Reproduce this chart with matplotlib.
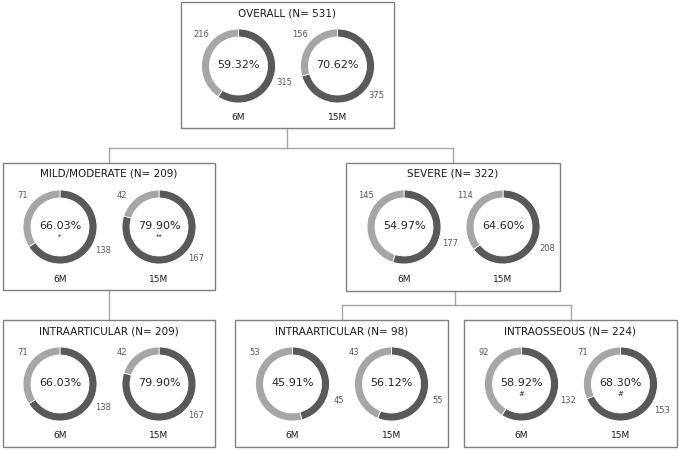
import numpy as np
import matplotlib.pyplot as plt
from matplotlib.patches import Rectangle

# --- data ---
groups = ["OVERALL", "MILD/MODERATE", "SEVERE", "INTRAARTICULAR", "INTRAARTICULAR", "INTRAOSSEOUS"]
group_n = [531, 209, 322, 209, 98, 224]
timepoints = ["6M", "15M"]

dark_6m = [315, 138, 177, 138, 45, 132]
light_6m = [216, 71, 145, 71, 53, 92]
dark_15m = [375, 167, 208, 167, 55, 153]
light_15m = [156, 42, 114, 42, 43, 71]

pct_6m = ["59.32%", "66.03%", "54.97%", "66.03%", "45.91%", "58.92%"]
pct_15m = ["70.62%", "79.90%", "64.60%", "79.90%", "56.12%", "68.30%"]
mark_6m = ["", "*", "", "", "", "#"]
mark_15m = ["", "**", "", "", "", "#"]

# --- layout (image pixels, y downwards) ---
W, H = 679, 451
boxes = [(181, 2, 394, 128), (3, 163, 215, 290), (346, 163, 560, 291),
         (3, 320, 215, 447), (235, 320, 448, 447), (464, 320, 677, 447)]
DARK = "#595959"
LIGHT = "#a6a6a6"
EDGE = "#808080"
R_OUT, RING = 37, 8

fig = plt.figure(figsize=(W / 100, H / 100), dpi=100)
ax = fig.add_axes([0, 0, 1, 1])
ax.set_xlim(0, W)
ax.set_ylim(0, H)
ax.set_aspect("equal")
ax.axis("off")


def fy(y):
    return H - y


# connectors
line_kw = dict(color="#a6a6a6", lw=1, zorder=0)
ax.plot([287, 287], [fy(128), fy(148)], **line_kw)
ax.plot([109, 453], [fy(148), fy(148)], **line_kw)
ax.plot([109, 109], [fy(148), fy(163)], **line_kw)
ax.plot([453, 453], [fy(148), fy(163)], **line_kw)
ax.plot([109, 109], [fy(290), fy(320)], **line_kw)
ax.plot([455, 455], [fy(291), fy(305)], **line_kw)
ax.plot([342, 571], [fy(305), fy(305)], **line_kw)
ax.plot([342, 342], [fy(305), fy(320)], **line_kw)
ax.plot([571, 571], [fy(305), fy(320)], **line_kw)


def donut(cx, cy, dark, light, pct, mark):
    wedges, _ = ax.pie([dark, light], colors=[DARK, LIGHT], startangle=90,
                       counterclock=False, radius=R_OUT, center=(cx, cy),
                       wedgeprops=dict(width=RING, edgecolor="white", linewidth=0.6),
                       frame=True)
    for w, val, lo, hi in zip(wedges, [dark, light], [-40, 140], [-20, 160]):
        mid = (w.theta1 + w.theta2) / 2
        if mid > 180:
            mid -= 360
        ang = np.deg2rad(np.clip(mid, lo, hi))
        ax.text(cx + 49 * np.cos(ang), cy + 49 * np.sin(ang), str(val),
                ha="center", va="center", fontsize=6, color="#595959")
    ax.text(cx, cy + 1, pct, ha="center", va="center", fontsize=8, color="#262626")
    if mark:
        ax.text(cx, cy - 10, mark, ha="center", va="center", fontsize=5, color="#262626")


for i, (x0, y0, x1, y1) in enumerate(boxes):
    ax.add_patch(Rectangle((x0, fy(y1)), x1 - x0, y1 - y0, fill=False,
                           edgecolor=EDGE, lw=1, zorder=1))
    bc = (x0 + x1) / 2
    ax.text(bc, fy(y0 + 11), f"{groups[i]} (N= {group_n[i]})", ha="center",
            va="center", fontsize=7.5, color="#1a1a1a")
    cy = fy(y0 + 64)
    for k, (dx, dk, lt, pc, mk) in enumerate([
            (-49, dark_6m[i], light_6m[i], pct_6m[i], mark_6m[i]),
            (50, dark_15m[i], light_15m[i], pct_15m[i], mark_15m[i])]):
        donut(bc + dx, cy, dk, lt, pc, mk)
        ax.text(bc + dx, fy(y0 + 116), timepoints[k], ha="center", va="center",
                fontsize=6.5, color="#1a1a1a")

ax.set_xlim(0, W)
ax.set_ylim(0, H)
ax.axis("off")
fig.savefig("out.png", dpi=100)
